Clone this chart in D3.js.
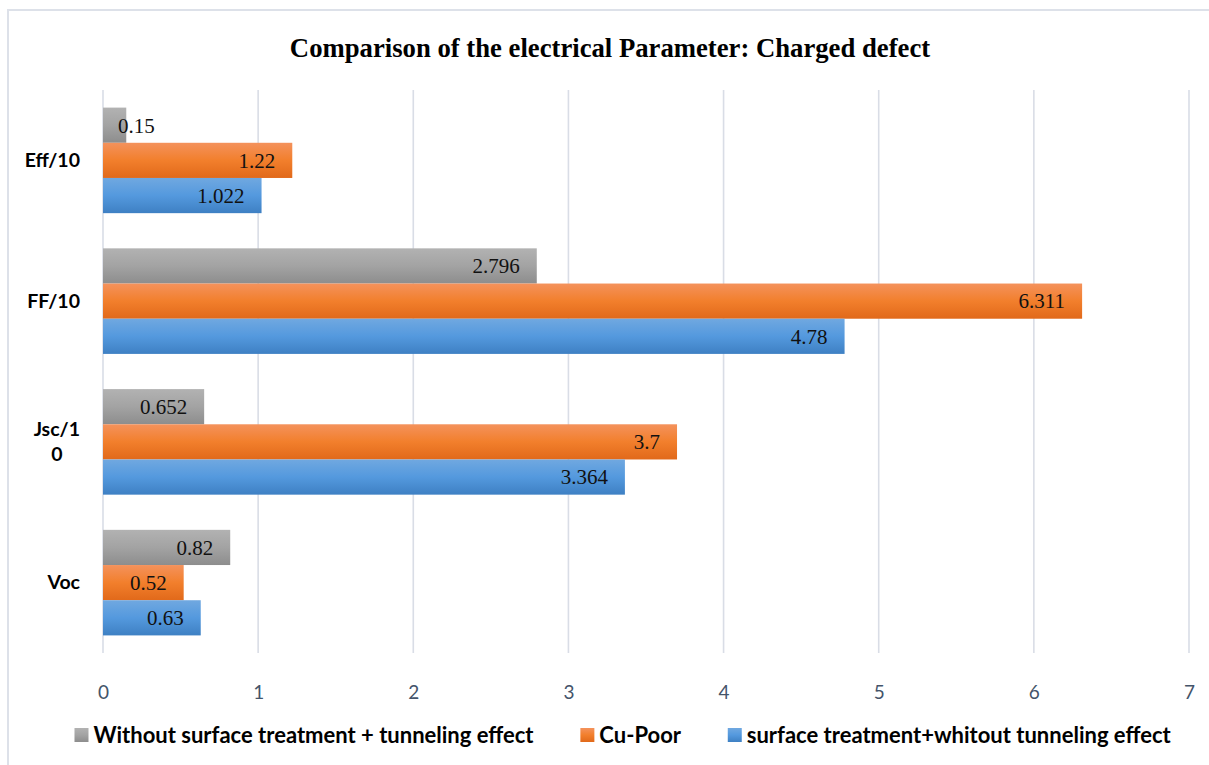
<!DOCTYPE html>
<html>
<head>
<meta charset="utf-8">
<script src="https://cdn.jsdelivr.net/npm/d3@7"></script>
<style>
  body { margin: 0; background: #fff; }
  svg { display: block; }
</style>
</head>
<body>
<svg id="chart"></svg>
<script>
// chart values
const categories = ["Eff/10", "FF/10", "Jsc/10", "Voc"];
// how the axis labels wrap in the original
const categoryLines = [["Eff/10"], ["FF/10"], ["Jsc/1", "0"], ["Voc"]];
const seriesNames = [
  "Without surface treatment + tunneling effect",
  "Cu-Poor",
  "surface treatment+whitout tunneling effect"
];
const grayValues = [0.15, 2.796, 0.652, 0.82];
const orangeValues = [1.22, 6.311, 3.7, 0.52];
const blueValues = [1.022, 4.78, 3.364, 0.63];
const xTicks = [0, 1, 2, 3, 4, 5, 6, 7];

const seriesValues = [grayValues, orangeValues, blueValues];

const width = 1209, height = 765;
const margin = { top: 90, right: 20, bottom: 112, left: 103 };

const svg = d3.select("#chart").attr("width", width).attr("height", height);

// gradients like the Excel fill (light on top, darker below)
const gradStops = [
  ["#b2b2b2", "#a3a3a3", "#8d8d8d"],
  ["#f4925c", "#f27f2c", "#e1691a"],
  ["#70a8e0", "#5499de", "#3e80c3"]
];
const defs = svg.append("defs");
gradStops.forEach((stops, i) => {
  const g = defs.append("linearGradient")
    .attr("id", "grad" + i)
    .attr("x1", 0).attr("y1", 0).attr("x2", 0).attr("y2", 1);
  g.append("stop").attr("offset", "0%").attr("stop-color", stops[0]);
  g.append("stop").attr("offset", "50%").attr("stop-color", stops[1]);
  g.append("stop").attr("offset", "100%").attr("stop-color", stops[2]);
});

// outer chart border
svg.append("rect")
  .attr("x", 8).attr("y", 10)
  .attr("width", width + 10).attr("height", height + 10)
  .attr("fill", "none")
  .attr("stroke", "#dde1e9")
  .attr("stroke-width", 2);

const innerW = 1189 - margin.left;
const innerH = 653 - margin.top;

const chart = svg.append("g")
  .attr("transform", `translate(${margin.left},${margin.top})`);

const xScale = d3.scaleLinear().domain([0, 7]).range([0, innerW]);
const yScale = d3.scaleBand()
  .domain(categories)
  .range([0, innerH])
  .paddingInner(0.25)
  .paddingOuter(0.125);
const ySub = d3.scaleBand()
  .domain(d3.range(seriesNames.length))
  .range([0, yScale.bandwidth()]);

// gridlines
chart.append("g")
  .selectAll("line")
  .data(xTicks)
  .join("line")
  .attr("x1", d => xScale(d)).attr("x2", d => xScale(d))
  .attr("y1", 0).attr("y2", innerH)
  .attr("stroke", "#d9dde6")
  .attr("stroke-width", 1.6);

// x axis labels
const xAxis = d3.axisBottom(xScale)
  .tickValues(xTicks)
  .tickSize(0)
  .tickPadding(0)
  .tickFormat(d3.format("d"));
const xAxisG = chart.append("g")
  .attr("transform", `translate(0,${innerH})`)
  .call(xAxis);
xAxisG.select(".domain").remove();
xAxisG.selectAll("text")
  .attr("y", 46)
  .attr("dy", 0)
  .attr("fill", "#44546a")
  .style("font-family", "Lato, 'Open Sans', sans-serif")
  .style("font-size", "19px");

// category labels
const catG = chart.append("g");
categories.forEach((c, i) => {
  const lines = categoryLines[i];
  const cy = yScale(c) + yScale.bandwidth() / 2;
  const t = catG.append("text")
    .attr("y", cy)
    .attr("fill", "#000")
    .attr("text-anchor", "end")
    .style("font-family", "Lato, sans-serif")
    .style("font-weight", "bold")
    .style("font-size", "19.5px");
  const lineH = 25;
  const y0 = cy - (lines.length - 1) * lineH / 2;
  const first = t.append("tspan")
    .attr("x", -23)
    .attr("y", y0)
    .attr("dy", "0.35em")
    .text(lines[0]);
  const w0 = first.node().getComputedTextLength();
  lines.slice(1).forEach((l, k) => {
    t.append("tspan")
      .attr("x", -23 - w0 / 2)
      .attr("y", y0 + (k + 1) * lineH)
      .attr("dy", "0.35em")
      .attr("text-anchor", "middle")
      .text(l);
  });
});

// bars
const rows = categories.map((c, i) => ({
  key: c,
  values: seriesValues.map((vals, s) => ({ s, value: vals[i] }))
}));

const groups = chart.selectAll(".bar-group")
  .data(rows)
  .join("g")
  .attr("class", "bar-group")
  .attr("transform", d => `translate(0,${yScale(d.key)})`);

groups.selectAll(".bar")
  .data(d => d.values)
  .join("rect")
  .attr("class", "bar")
  .attr("x", xScale(0))
  .attr("y", d => ySub(d.s))
  .attr("width", d => xScale(d.value) - xScale(0))
  .attr("height", ySub.bandwidth())
  .attr("fill", d => `url(#grad${d.s})`);

// value labels: inside end, pushed right when the bar is too short
groups.selectAll(".label")
  .data(d => d.values)
  .join("text")
  .attr("class", "label")
  .attr("y", d => ySub(d.s) + ySub.bandwidth() / 2)
  .attr("dy", "0.35em")
  .attr("fill", "#111")
  .style("font-family", "'Liberation Serif', 'Times New Roman', serif")
  .style("font-size", "21px")
  .text(d => String(d.value))
  .each(function (d) {
    const w = this.getComputedTextLength();
    const end = Math.max(xScale(d.value) - 17, xScale(0) + 15 + w);
    d3.select(this).attr("x", end).attr("text-anchor", "end");
  });

// title
svg.append("text")
  .attr("x", 610)
  .attr("y", 57)
  .attr("text-anchor", "middle")
  .style("font-family", "'Liberation Serif', 'Times New Roman', serif")
  .style("font-weight", "bold")
  .style("font-size", "26.7px")
  .text("Comparison of the electrical Parameter: Charged defect");

// legend
const legend = svg.append("g").attr("transform", "translate(0,735)");
const items = legend.selectAll(".legend-item")
  .data(seriesNames)
  .join("g")
  .attr("class", "legend-item");
items.append("rect")
  .attr("y", -7)
  .attr("width", 14)
  .attr("height", 14)
  .attr("fill", (d, i) => `url(#grad${i})`);
items.append("text")
  .attr("x", 19)
  .attr("dy", "0.35em")
  .style("font-family", "Lato, sans-serif")
  .style("font-weight", "bold")
  .style("font-size", "22px")
  .text(d => d);

let widths = [];
items.each(function () {
  widths.push(this.getBBox().width);
});
const gap = 46;
const total = d3.sum(widths) + gap * (widths.length - 1);
let xPos = 623 - total / 2;
items.each(function (d, i) {
  d3.select(this).attr("transform", `translate(${xPos},0)`);
  xPos += widths[i] + gap;
});
</script>
</body>
</html>
